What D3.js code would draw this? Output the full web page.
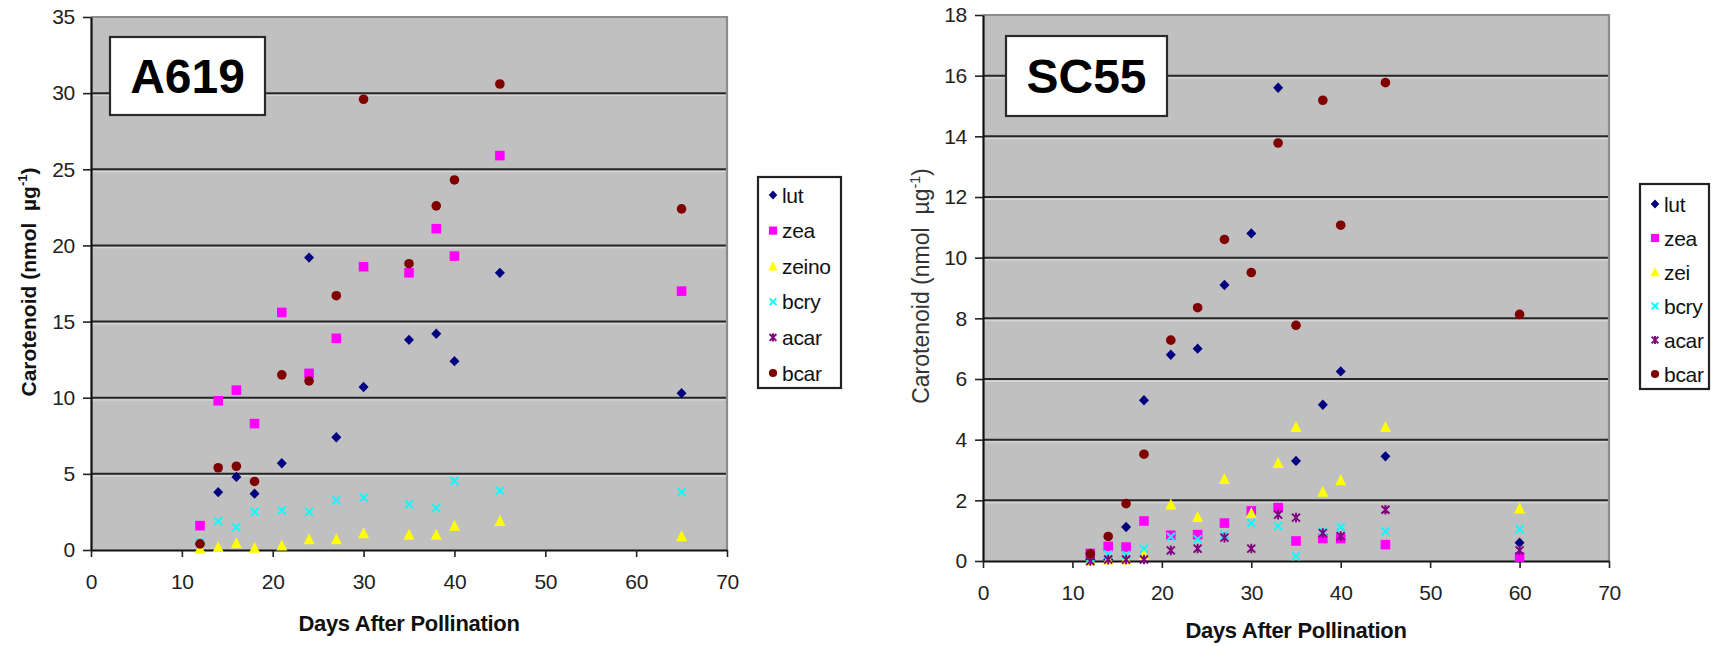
<!DOCTYPE html>
<html>
<head>
<meta charset="utf-8">
<script src="https://cdn.jsdelivr.net/npm/d3@7"></script>
<style>
  html, body { margin: 0; padding: 0; background: #ffffff; }
  svg { display: block; font-family: "Liberation Sans", Arial, sans-serif; }
</style>
</head>
<body>
<svg id="chart" width="1714" height="647"></svg>
<script>
// ---------------- DATA ----------------
const seriesNames = ["lut", "zea", "zeino", "bcry", "acar", "bcar"];
const seriesNamesSC55 = ["lut", "zea", "zei", "bcry", "acar", "bcar"];

const xTicks = [0, 10, 20, 30, 40, 50, 60, 70];
const yTicksA619 = [0, 5, 10, 15, 20, 25, 30, 35];
const yTicksSC55 = [0, 2, 4, 6, 8, 10, 12, 14, 16, 18];

// A619
const daysA619 = [12, 14, 16, 18, 21, 24, 27, 30, 35, 38, 40, 45, 65];
const a619_lut   = [0.4, 3.8, 4.8, 3.7, 5.7, 19.2, 7.4, 10.7, 13.8, 14.2, 12.4, 18.2, 10.3];
const a619_zea   = [1.6, 9.8, 10.5, 8.3, 15.6, 11.6, 13.9, 18.6, 18.2, 21.1, 19.3, 25.9, 17.0];
const a619_zeino = [0.1, 0.2, 0.45, 0.15, 0.3, 0.7, 0.7, 1.1, 1.0, 1.0, 1.6, 1.9, 0.9];
const a619_bcry  = [0.5, 1.9, 1.5, 2.5, 2.6, 2.5, 3.25, 3.45, 3.0, 2.75, 4.55, 3.9, 3.8];
const a619_acar  = [null, null, null, null, null, null, null, null, null, null, null, null, null];
const a619_bcar  = [0.4, 5.4, 5.5, 4.5, 11.5, 11.1, 16.7, 29.6, 18.8, 22.6, 24.3, 30.6, 22.4];

// SC55
const daysSC55 = [12, 14, 16, 18, 21, 24, 27, 30, 33, 35, 38, 40, 45, 60];
const sc55_lut  = [0.05, 0.05, 1.12, 5.3, 6.8, 7.0, 9.1, 10.8, 15.6, 3.3, 5.15, 6.25, 3.45, 0.6];
const sc55_zea  = [0.25, 0.48, 0.46, 1.32, 0.85, 0.87, 1.25, 1.65, 1.76, 0.66, 0.74, 0.74, 0.54, 0.13];
const sc55_zei  = [0.02, 0.05, 0.05, 0.2, 1.86, 1.45, 2.7, 1.58, 3.23, 4.42, 2.28, 2.66, 4.42, 1.73];
const sc55_bcry = [0.1, 0.22, 0.2, 0.41, 0.8, 0.72, 0.87, 1.25, 1.15, 0.15, 0.96, 1.12, 0.98, 1.05];
const sc55_acar = [0.0, 0.05, 0.05, 0.05, 0.35, 0.41, 0.77, 0.41, 1.53, 1.43, 0.92, 0.82, 1.69, 0.35];
const sc55_bcar = [0.24, 0.81, 1.89, 3.52, 7.28, 8.35, 10.6, 9.51, 13.78, 7.77, 15.19, 11.07, 15.77, 8.13];

// ---------------- STYLE ----------------
const colors = ["#000080", "#ff00ff", "#ffff00", "#00ffff", "#800080", "#800000"];
const shapes = ["diamond", "square", "triangle", "cross", "star", "circle"];

const svg = d3.select("#chart");

function marker(g, shape, color, x, y, s) {
  s = s || 1;
  if (shape === "diamond") {
    g.append("path").attr("d", `M${x},${y-5.2*s}L${x+5*s},${y}L${x},${y+5.2*s}L${x-5*s},${y}Z`).attr("fill", color);
  } else if (shape === "square") {
    g.append("rect").attr("x", x-4.8*s).attr("y", y-4.8*s).attr("width", 9.6*s).attr("height", 9.6*s).attr("fill", color);
  } else if (shape === "triangle") {
    g.append("path").attr("d", `M${x},${y-6*s}L${x+5.5*s},${y+5*s}L${x-5.5*s},${y+5*s}Z`).attr("fill", color);
  } else if (shape === "cross") {
    g.append("path").attr("d", `M${x-4*s},${y-4*s}L${x+4*s},${y+4*s}M${x+4*s},${y-4*s}L${x-4*s},${y+4*s}`)
      .attr("stroke", color).attr("stroke-width", 1.9).attr("fill", "none");
  } else if (shape === "star") {
    g.append("path").attr("d", `M${x-4*s},${y-4*s}L${x+4*s},${y+4*s}M${x+4*s},${y-4*s}L${x-4*s},${y+4*s}M${x},${y-4.8*s}L${x},${y+4.8*s}`)
      .attr("stroke", color).attr("stroke-width", 1.9).attr("fill", "none");
  } else if (shape === "circle") {
    g.append("circle").attr("cx", x).attr("cy", y).attr("r", 4.8*s).attr("fill", color);
  }
}

function drawChart(cfg) {
  const g = svg.append("g");
  const x = d3.scaleLinear().domain([0, 70]).range([cfg.left, cfg.right]);
  const y = d3.scaleLinear().domain([0, cfg.yMax]).range([cfg.bottom, cfg.top]);

  // plot background
  g.append("rect").attr("x", cfg.left).attr("y", cfg.top)
    .attr("width", cfg.right - cfg.left).attr("height", cfg.bottom - cfg.top)
    .attr("fill", "#c0c0c0");

  // gridlines
  cfg.yTicks.forEach(t => {
    if (t === 0 || t === cfg.yMax) return;
    g.append("line").attr("x1", cfg.left).attr("x2", cfg.right)
      .attr("y1", y(t) + 2.2).attr("y2", y(t) + 2.2)
      .attr("stroke", "#d6d6d6").attr("stroke-width", 1.4);
    g.append("line").attr("x1", cfg.left).attr("x2", cfg.right)
      .attr("y1", y(t)).attr("y2", y(t))
      .attr("stroke", "#262626").attr("stroke-width", 2);
  });

  // frame (top and right, gray)
  g.append("path")
    .attr("d", `M${cfg.left},${cfg.top}L${cfg.right},${cfg.top}L${cfg.right},${cfg.bottom}`)
    .attr("fill", "none").attr("stroke", "#8c8c8c").attr("stroke-width", 2.2);

  // axes via d3
  const yAxis = d3.axisLeft(y).tickValues(cfg.yTicks).tickSize(8).tickSizeOuter(0).tickPadding(cfg.yPad);
  const ya = g.append("g").attr("transform", `translate(${cfg.left},0)`).call(yAxis);
  const xAxis = d3.axisBottom(x).tickValues(xTicks).tickSize(7).tickSizeOuter(0).tickPadding(cfg.xPad);
  const xa = g.append("g").attr("transform", `translate(0,${cfg.bottom})`).call(xAxis);
  [ya, xa].forEach(a => {
    a.select(".domain").attr("stroke", "#111").attr("stroke-width", 2.2);
    a.selectAll(".tick line").attr("stroke", "#222").attr("stroke-width", 1.6);
    a.selectAll(".tick text").attr("fill", "#222").attr("font-size", 21)
      .attr("font-family", "'Liberation Sans', Arial, sans-serif").attr("letter-spacing", "-0.3px");
  });

  // points
  const pts = g.append("g");
  cfg.series.forEach((vals, i) => {
    const sg = pts.append("g");
    vals.forEach((v, j) => {
      if (v === null || v === undefined) return;
      marker(sg, shapes[i], colors[i], x(cfg.days[j]), y(v));
    });
  });

  // title box
  const tb = cfg.titleBox;
  g.append("rect").attr("x", tb.x).attr("y", tb.y).attr("width", tb.w).attr("height", tb.h)
    .attr("fill", "#ffffff").attr("stroke", "#2a2a2a").attr("stroke-width", 2.2);
  g.append("text").attr("x", tb.x + tb.w / 2).attr("y", tb.y + tb.h / 2 + 17)
    .attr("text-anchor", "middle").attr("font-size", 48).attr("font-weight", "bold")
    .attr("fill", "#000").text(cfg.title);

  // legend
  const lb = cfg.legend;
  g.append("rect").attr("x", lb.x).attr("y", lb.y).attr("width", lb.w).attr("height", lb.h)
    .attr("fill", "#ffffff").attr("stroke", "#222").attr("stroke-width", 2.2);
  cfg.names.forEach((n, i) => {
    const cy = lb.row0 + i * lb.step;
    marker(g, shapes[i], colors[i], lb.x + 15, cy, 0.85);
    g.append("text").attr("x", lb.x + 24).attr("y", cy + 7.5)
      .attr("font-size", 21).attr("fill", "#111").attr("letter-spacing", "-0.3px").text(n);
  });

  // axis titles
  g.append("text").attr("x", (cfg.left + cfg.right) / 2).attr("y", cfg.xTitleY)
    .attr("text-anchor", "middle").attr("font-size", 22).attr("font-weight", "bold")
    .attr("letter-spacing", "-0.3px").attr("fill", "#111").text("Days After Pollination");

  const yl = g.append("text")
    .attr("transform", `translate(${cfg.yTitleX},${cfg.yTitleY}) rotate(-90)`)
    .attr("text-anchor", "middle").attr("font-size", cfg.yTitleSize)
    .attr("font-weight", cfg.yTitleWeight).attr("fill", cfg.yTitleColor);
  yl.append("tspan").text("Carotenoid (nmol\u00a0\u00a0\u00b5g");
  yl.append("tspan").attr("font-size", cfg.yTitleSize * 0.62).attr("dy", -9).text("-1");
  yl.append("tspan").attr("dy", 9).text(")");
}

drawChart({
  title: "A619", names: seriesNames,
  days: daysA619,
  series: [a619_lut, a619_zea, a619_zeino, a619_bcry, a619_acar, a619_bcar],
  yMax: 35, yTicks: yTicksA619,
  left: 91, right: 727, top: 17, bottom: 550,
  yPad: 8, xPad: 17,
  titleBox: { x: 110, y: 37, w: 155, h: 78 },
  legend: { x: 758, y: 177, w: 83, h: 211, row0: 195, step: 35.6 },
  xTitleY: 631, yTitleX: 36, yTitleY: 282, yTitleSize: 21, yTitleWeight: "bold", yTitleColor: "#111"
});

drawChart({
  title: "SC55", names: seriesNamesSC55,
  days: daysSC55,
  series: [sc55_lut, sc55_zea, sc55_zei, sc55_bcry, sc55_acar, sc55_bcar],
  yMax: 18, yTicks: yTicksSC55,
  left: 983, right: 1609, top: 15, bottom: 561,
  yPad: 8, xPad: 17,
  titleBox: { x: 1006, y: 36, w: 161, h: 80 },
  legend: { x: 1640, y: 184, w: 69, h: 205, row0: 204, step: 34 },
  xTitleY: 638, yTitleX: 929, yTitleY: 286, yTitleSize: 23, yTitleWeight: "normal", yTitleColor: "#333"
});
</script>
</body>
</html>
